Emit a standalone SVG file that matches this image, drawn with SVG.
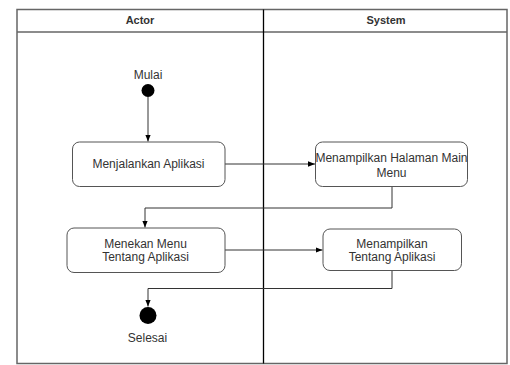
<svg xmlns="http://www.w3.org/2000/svg" width="510" height="365" viewBox="0 0 510 365">
<defs>
<style>
.frame{fill:#fff;stroke:#666;stroke-width:1.5}
.div{stroke:#000;stroke-width:1.3}
.hdr{font-family:"Liberation Sans",Arial,sans-serif;font-size:11px;font-weight:bold;fill:#333;text-anchor:middle}
.box{fill:#fff;stroke:#555;stroke-width:1}
.lbl{font-family:"Liberation Sans",Arial,sans-serif;font-size:12px;fill:#333;text-anchor:middle}
.edge{fill:none;stroke:#333;stroke-width:1}
</style>
<marker id="arr" viewBox="0 0 10 10" refX="10" refY="5" markerWidth="7" markerHeight="7" markerUnits="userSpaceOnUse" orient="auto">
<path d="M0,1 L10,5 L0,9 Z" fill="#000"/>
</marker>
</defs>
<rect width="510" height="365" fill="#fff"/>
<g id="pool">
<rect class="frame" x="17" y="9.5" width="490" height="354"/>
<line class="frame" x1="17" y1="32" x2="507" y2="32"/>
<line class="div" x1="263.5" y1="9.5" x2="263.5" y2="363.5"/>
<text class="hdr" x="140" y="24">Actor</text>
<text class="hdr" x="386" y="24">System</text>
</g>
<g id="edges">
<path class="edge" d="M148,97 V141.5" marker-end="url(#arr)"/>
<path class="edge" d="M225,164 H315" marker-end="url(#arr)"/>
<path class="edge" d="M392,187 V208 H145 V227.5" marker-end="url(#arr)"/>
<path class="edge" d="M225,250 H322.5" marker-end="url(#arr)"/>
<path class="edge" d="M392,270.5 V288.5 H148 V306.5" marker-end="url(#arr)"/>
</g>
<g id="start">
<circle cx="148" cy="90.5" r="6.5" fill="#000"/>
<text class="lbl" x="148" y="79">Mulai</text>
</g>
<g id="n1">
<rect class="box" x="72.5" y="142" width="152.5" height="44.5" rx="7"/>
<text class="lbl" x="148.5" y="168">Menjalankan Aplikasi</text>
</g>
<g id="n2">
<rect class="box" x="315.5" y="142" width="152" height="44.5" rx="7"/>
<text class="lbl" x="391.5" y="162">Menampilkan Halaman Main</text>
<text class="lbl" x="391.5" y="176.5">Menu</text>
</g>
<g id="n3">
<rect class="box" x="67" y="228" width="158" height="44.5" rx="7"/>
<text class="lbl" x="145.5" y="247.5">Menekan Menu</text>
<text class="lbl" x="145.5" y="260.5">Tentang Aplikasi</text>
</g>
<g id="n4">
<rect class="box" x="323" y="229" width="138.5" height="41.5" rx="7"/>
<text class="lbl" x="392" y="247.5">Menampilkan</text>
<text class="lbl" x="392" y="260.5">Tentang Aplikasi</text>
</g>
<g id="end">
<circle cx="148" cy="315.5" r="8.5" fill="#000"/>
<text class="lbl" x="147.5" y="342">Selesai</text>
</g>
</svg>
